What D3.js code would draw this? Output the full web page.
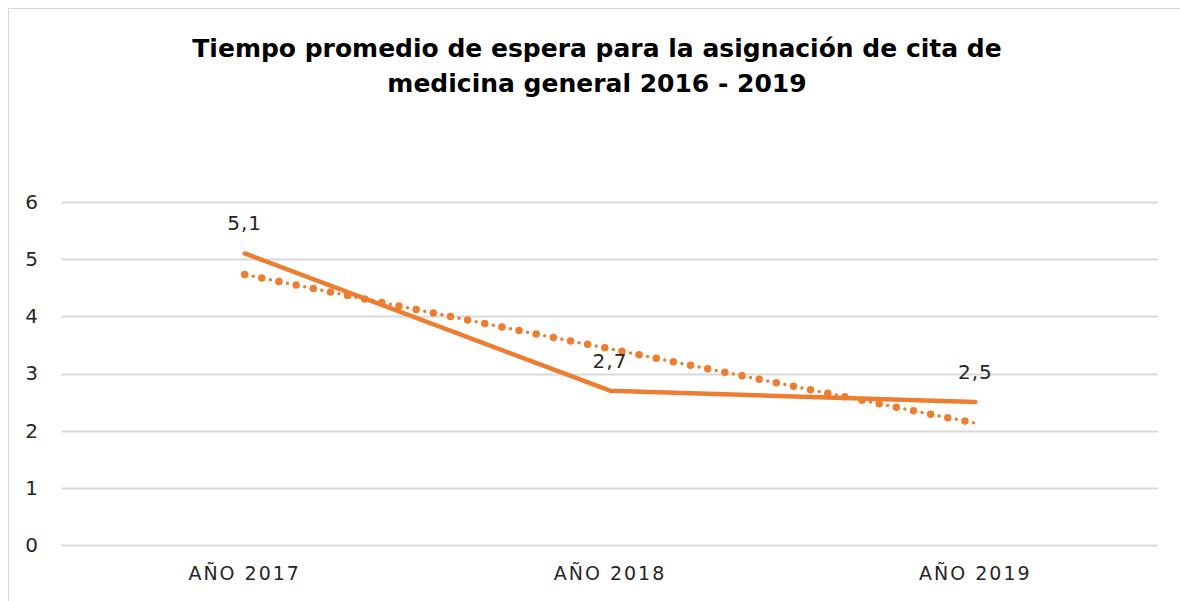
<!DOCTYPE html>
<meta charset="utf-8">
<script src="https://d3js.org/d3.v7.min.js"></script>
<style>
  body { margin: 0; background: #fff; }
</style>
<div id="chart"></div>
<script>

    // data
    var categories = ["AÑO 2017", "AÑO 2018", "AÑO 2019"];
    var values = [5.1, 2.7, 2.5];
    var valueLabels = ["5,1", "2,7", "2,5"];
    // linear trendline, read at each category
    var trendValues = [4.73, 3.43, 2.13];
    var yTicks = [0, 1, 2, 3, 4, 5, 6];
    var titleLines = ["Tiempo promedio de espera para la asignación de cita de",
                      "medicina general 2016 - 2019"];

    var W = 1180, H = 601;
    var margin = {top: 202, right: 22, bottom: 56, left: 62},
        width = W - margin.left - margin.right,
        height = H - margin.top - margin.bottom;

    var orange = "#ED7D31";
    var font = "'Century Gothic', 'DejaVu Sans', sans-serif";

    var svg = d3.select("#chart")
        .append("svg")
        .attr("width", W)
        .attr("height", H);

    // chart frame
    svg.append("rect")
        .attr("x", 8.5).attr("y", 8.5)
        .attr("width", W + 10).attr("height", H + 10)
        .attr("fill", "none")
        .attr("stroke", "#d9d9d9")
        .attr("stroke-width", 1);

    // title
    svg.append("text")
        .attr("x", 597)
        .attr("text-anchor", "middle")
        .style("font-family", font)
        .style("font-weight", "bold")
        .style("font-size", "25px")
        .attr("fill", "#000")
        .selectAll("tspan")
        .data(titleLines)
        .enter()
        .append("tspan")
        .attr("x", 597)
        .attr("y", function(d, i) { return 57 + i * 35; })
        .text(function(d) { return d; });

    var g = svg.append("g")
        .attr("transform", "translate(" + margin.left + "," + margin.top + ")");

    var x = d3.scaleBand()
        .domain(categories)
        .range([0, width]);

    var y = d3.scaleLinear()
        .domain([0, 6])
        .range([height, 0]);

    // gridlines
    g.selectAll(".grid")
        .data(yTicks)
        .enter()
        .append("line")
        .attr("x1", 0).attr("x2", width)
        .attr("y1", function(d) { return Math.round(y(d)) + 0.5; })
        .attr("y2", function(d) { return Math.round(y(d)) + 0.5; })
        .attr("stroke", "#d9d9d9")
        .attr("stroke-width", 2);

    // y axis
    var yAxis = g.append("g")
        .call(d3.axisLeft(y).tickValues(yTicks).tickFormat(d3.format("d"))
            .tickSize(0).tickPadding(24));
    yAxis.select(".domain").remove();
    yAxis.selectAll("text")
        .style("font-family", font)
        .style("font-size", "20px")
        .attr("fill", "#262626");

    // x axis
    var xAxis = g.append("g")
        .attr("transform", "translate(0," + height + ")")
        .call(d3.axisBottom(x).tickSize(0).tickPadding(22));
    xAxis.select(".domain").remove();
    xAxis.selectAll("text")
        .style("font-family", font)
        .style("font-size", "19px")
        .style("letter-spacing", "2px")
        .attr("fill", "#262626");

    var cx = function(d, i) { return x(categories[i]) + x.bandwidth() / 2; };

    // trendline: big dot / small dot pattern
    var trendLine = d3.line()
        .x(function(d, i) { return cx(d, i); })
        .y(function(d) { return y(d); });

    g.append("path")
        .datum(trendValues)
        .attr("d", trendLine)
        .attr("fill", "none")
        .attr("stroke", orange)
        .attr("stroke-width", 7.5)
        .attr("stroke-linecap", "round")
        .attr("stroke-dasharray", "0 17.5");

    g.append("path")
        .datum(trendValues)
        .attr("d", trendLine)
        .attr("fill", "none")
        .attr("stroke", orange)
        .attr("stroke-width", 3.5)
        .attr("stroke-linecap", "round")
        .attr("stroke-dasharray", "0 17.5")
        .attr("stroke-dashoffset", -8.75);

    // main series
    var line = d3.line()
        .x(function(d, i) { return cx(d, i); })
        .y(function(d) { return y(d); });

    g.append("path")
        .datum(values)
        .attr("d", line)
        .attr("fill", "none")
        .attr("stroke", orange)
        .attr("stroke-width", 4.5)
        .attr("stroke-linecap", "round")
        .attr("stroke-linejoin", "round");

    // data labels
    g.selectAll(".label")
        .data(values)
        .enter()
        .append("text")
        .attr("x", function(d, i) { return cx(d, i); })
        .attr("y", function(d) { return y(d) - 23; })
        .attr("text-anchor", "middle")
        .style("font-family", font)
        .style("font-size", "20px")
        .style("letter-spacing", "1px")
        .attr("fill", "#262626")
        .text(function(d, i) { return valueLabels[i]; });

</script>
